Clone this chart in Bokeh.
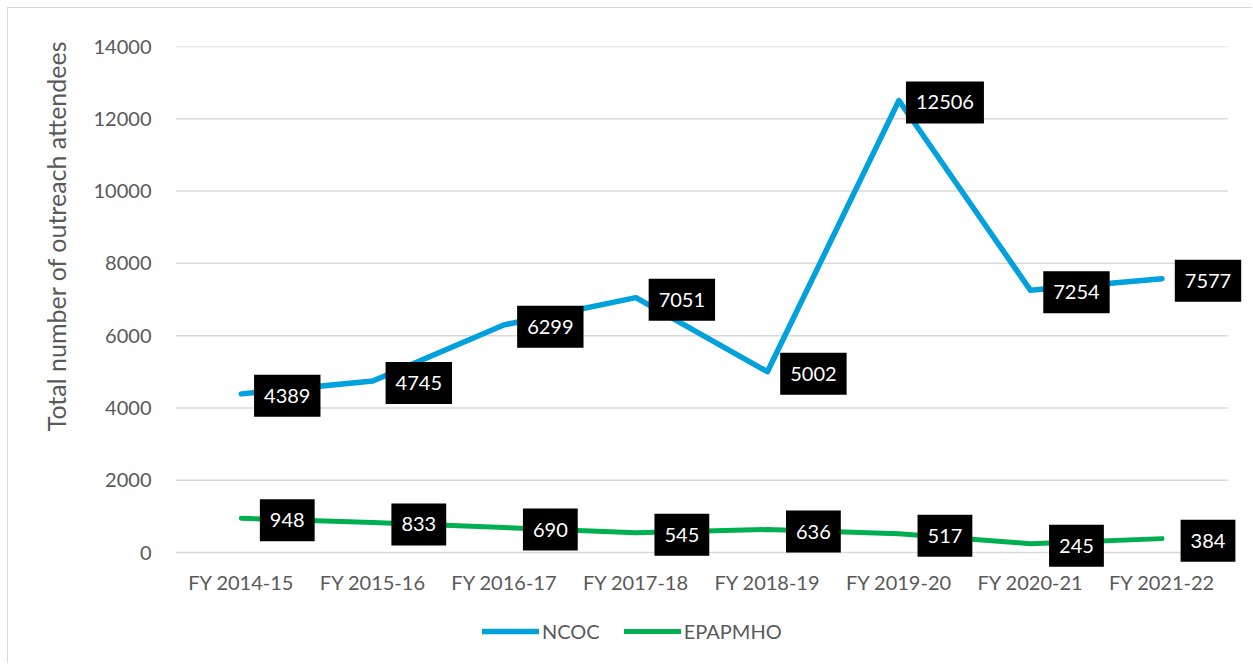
from bokeh.plotting import figure
from bokeh.models import ColumnDataSource, Range1d, FixedTicker, Legend, LegendItem, Title
from bokeh.core.properties import value
from bokeh.embed import file_html
from bokeh.resources import INLINE

categories = ["FY 2014-15", "FY 2015-16", "FY 2016-17", "FY 2017-18",
              "FY 2018-19", "FY 2019-20", "FY 2020-21", "FY 2021-22"]
ncoc = [4389, 4745, 6299, 7051, 5002, 12506, 7254, 7577]
epapmho = [948, 833, 690, 545, 636, 517, 245, 384]
y_ticks = [0, 2000, 4000, 6000, 8000, 10000, 12000, 14000]

FONT = "Lato"
GREY = "#595959"
BLUE = "#00A1DC"
GREEN = "#00B050"

idx = list(range(len(categories)))
src_n = ColumnDataSource(dict(x=idx, y=ncoc, t=[str(v) for v in ncoc]))
src_e = ColumnDataSource(dict(x=idx, y=epapmho, t=[str(v) for v in epapmho]))
n = len(categories)
src_g = ColumnDataSource(dict(x0=[-0.5] * len(y_ticks), x1=[n - 0.5] * len(y_ticks),
                              y=y_ticks))

p = figure(width=1245, height=656, x_range=Range1d(-0.5, 7.65),
           y_range=Range1d(-2988, 14000), output_backend="svg", toolbar_location=None,
           min_border_left=167, min_border_right=6, min_border_top=38, min_border_bottom=4)
p.outline_line_color = None
p.background_fill_color = "white"
p.border_fill_color = "white"

p.xgrid.grid_line_color = None
p.ygrid.grid_line_color = None
p.segment("x0", "y", "x1", "y", source=src_g, line_color="#d9d9d9", line_width=1.5,
          level="underlay")

p.yaxis.ticker = FixedTicker(ticks=y_ticks)
p.xaxis.ticker = FixedTicker(ticks=idx)
p.xaxis.major_label_overrides = {i: c for i, c in zip(idx, categories)}
p.xaxis.fixed_location = 0
for ax in (p.xaxis[0], p.yaxis[0]):
    ax.axis_line_color = None
    ax.major_tick_line_color = None
    ax.minor_tick_line_color = None
    ax.major_tick_out = 0
    ax.major_tick_in = 0
    ax.minor_tick_out = 0
    ax.minor_tick_in = 0
    ax.major_label_text_font = FONT
    ax.major_label_text_font_size = "20px"
    ax.major_label_text_color = GREY
p.yaxis.major_label_standoff = 24
p.xaxis.major_label_standoff = 17

ytitle = Title(text="Total number of outreach attendees", align="right", offset=-6,
               text_font=FONT, text_font_size="25px", text_font_style="normal",
               text_color=GREY, standoff=40)
p.add_layout(ytitle, "left")

rn = p.line("x", "y", source=src_n, line_color=BLUE, line_width=5.5, line_join="round", line_cap="round")
re = p.line("x", "y", source=src_e, line_color=GREEN, line_width=5, line_join="round", line_cap="round")

for src in (src_n, src_e):
    p.text("x", "y", text="t", source=src, x_offset=46, y_offset=2,
           text_align="center", text_baseline="middle",
           text_font=value(FONT), text_font_size="20px", text_color="white",
           background_fill_color="black",
           padding=dict(left=10, right=10, top=14, bottom=14))

legend = Legend(items=[LegendItem(label="NCOC", renderers=[rn]),
                       LegendItem(label="EPAPMHO", renderers=[re])],
                orientation="horizontal", location=(307, 17),
                glyph_width=57, glyph_height=20, label_standoff=3, spacing=24,
                label_text_font=FONT, label_text_font_size="20px", label_text_color=GREY,
                border_line_color=None, background_fill_alpha=0, padding=4, margin=0)
p.add_layout(legend, "center")

p.styles = {"border-left": "1px solid #d9d9d9", "border-top": "1px solid #d9d9d9",
            "margin-left": "7px", "margin-top": "7px"}

open("out.html", "w").write(file_html(p, INLINE))
